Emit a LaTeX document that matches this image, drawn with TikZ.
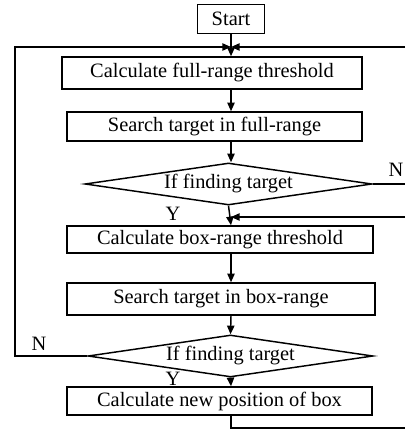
\documentclass[tikz,border=0pt]{standalone}
\usepackage{fontspec}
\setmainfont{Liberation Serif}
\usetikzlibrary{shapes.geometric,arrows.meta}

\tikzset{every picture/.style={line width=0.75pt}}
\tikzset{
  stepbox/.style={draw, rectangle, inner sep=0pt, font=\fontsize{15.3}{18}\selectfont},
  testbox/.style={draw, diamond, inner sep=0pt, aspect=6.8, font=\fontsize{15.3}{18}\selectfont},
  lbl/.style={inner sep=0.75pt, font=\fontsize{15.3}{18}\selectfont},
  arr/.style={-{Triangle[length=6.5pt,width=5.5pt]}}
}

\begin{document}
\begin{tikzpicture}[x=0.75pt,y=0.75pt,yscale=-1,xscale=1, line width=1.1pt]
\useasboundingbox (0,0) rectangle (409,441);

% Boxes
\node[stepbox, minimum width=67*0.75pt, minimum height=29*0.75pt] (start) at (231,19) {Start};
\node[stepbox, minimum width=300*0.75pt, minimum height=32*0.75pt] (calcfull) at (212,73) {Calculate full-range threshold};
\node[stepbox, minimum width=295*0.75pt, minimum height=29*0.75pt] (searchfull) at (214.5,126.5) {Search target in full-range};
\node[testbox, minimum width=287*0.75pt, minimum height=42*0.75pt] (find1) at (228.5,184) {If finding target};
\node[stepbox, minimum width=306*0.75pt, minimum height=27*0.75pt] (calcbox) at (220,239.5) {Calculate box-range threshold};
\node[stepbox, minimum width=308*0.75pt, minimum height=32*0.75pt] (searchbox) at (221,299) {Search target in box-range};
\node[testbox, minimum width=285*0.75pt, minimum height=42*0.75pt] (find2) at (230.5,356) {If finding target};
\node[stepbox, minimum width=305*0.75pt, minimum height=28*0.75pt] (newpos) at (219.5,401) {Calculate new position of box};

% Text Node
\node[lbl] (n1) at (396,170) {N};
\node[lbl] (y1) at (173,214) {Y};
\node[lbl] (n2) at (39,344) {N};
\node[lbl] (y2) at (173,379) {Y};

% Helper points
\coordinate (spine) at (231,0);
\coordinate (leftx) at (15,0);
\coordinate (rightx) at (405,0);
\coordinate (topjoin) at (231,47);
\coordinate (boxjoin) at (231,217);
\coordinate (bottom) at (231,428);

%Straight Lines
\draw[arr] (start) -- (spine |- calcfull.north);
\draw[arr] (spine |- calcfull.south) -- (spine |- searchfull.north);
\draw[arr] (spine |- searchfull.south) -- (spine |- find1.north);
\draw[arr] (find1.south) -- (spine |- calcbox.north);
\draw[arr] (spine |- calcbox.south) -- (spine |- searchbox.north);
\draw[arr] (spine |- searchbox.south) -- (find2.north);
\draw[arr] (find2.south) -- (spine |- newpos.north);

% Loops
\draw[arr] (find2.west) -- (leftx |- find2.west) -- (leftx |- topjoin) -- (topjoin);
\draw[arr] (rightx |- topjoin) -- (topjoin);
\draw (find1.east) -- (rightx |- find1.east);
\draw[arr] (rightx |- boxjoin) -- (boxjoin);
\draw (spine |- newpos.south) -- (bottom) -- (rightx |- bottom);

\end{tikzpicture}
\end{document}
